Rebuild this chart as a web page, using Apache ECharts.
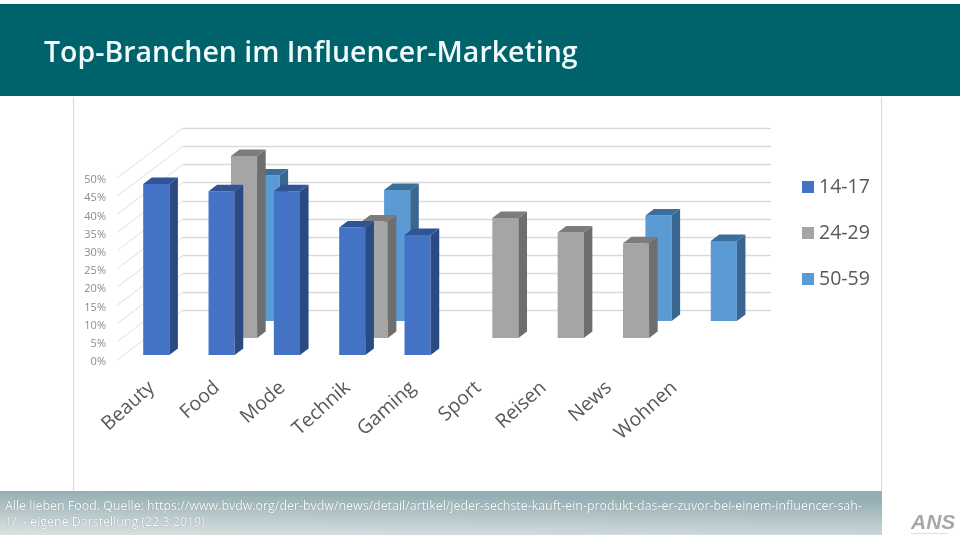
<!DOCTYPE html>
<html><head><meta charset="utf-8">
<style>html,body{margin:0;padding:0;background:#fff}#c{width:960px;height:540px}</style>
<script src="https://cdn.jsdelivr.net/npm/echarts@6/dist/echarts.min.js"></script>
</head><body><div id="c"></div>
<script>
const categories = ['Beauty','Food','Mode','Technik','Gaming','Sport','Reisen','News','Wohnen'];
const valueTicks = [0,5,10,15,20,25,30,35,40,45,50];
const seriesNames = ['14-17','24-29','50-59'];
const values1417 = [47,45,45,35,33,null,null,null,null];
const values2429 = [null,50,null,32,null,33,29,26,null];
const values5059 = [null,40,null,36,null,null,null,29,22];
const titleText = 'Top-Branchen im Influencer-Marketing';
const footerLines = ['Alle lieben Food. Quelle: https://www.bvdw.org/der-bvdw/news/detail/artikel/jeder-sechste-kauft-ein-produkt-das-er-zuvor-bei-einem-influencer-sah-','1/  - eigene Darstellung (22.3.2019)'];

const DEPTH_X = 66, DEPTH_Y = 50, ROW_Y = 17, INSET_Y = 5, BAR_DEPTH_Y = 6.5;
const K = DEPTH_X / DEPTH_Y;
const palette = [
  {front:'#4472C4', side:'#2A4A82', top:'#2F5597'},
  {front:'#A5A5A5', side:'#6E6E6E', top:'#7C7C7C'},
  {front:'#5B9BD5', side:'#3A678F', top:'#3C6E9C'}
];

function barRenderer(row){
  return function(params, api){
    const c = palette[row];
    const base = api.coord([api.value(0), 0]);
    const top = api.coord([api.value(0), api.value(1)]);
    const w = api.size([1,0])[0] * 0.4;
    const d = ROW_Y * row + INSET_Y;
    const x0 = base[0] + d * K - w / 2;
    const x1 = x0 + w;
    const yb = base[1] - d, yt = top[1] - d;
    const dx = BAR_DEPTH_Y * K, dy = BAR_DEPTH_Y;
    return {type:'group', children:[
      {type:'polygon', shape:{points:[[x0,yb],[x1,yb],[x1,yt],[x0,yt]]}, style:{fill:c.front}},
      {type:'polygon', shape:{points:[[x1,yb],[x1+dx,yb-dy],[x1+dx,yt-dy],[x1,yt]]}, style:{fill:c.side}},
      {type:'polygon', shape:{points:[[x0,yt],[x1,yt],[x1+dx,yt-dy],[x0+dx,yt-dy]]}, style:{fill:c.top}}
    ]};
  };
}
function rows(vals){ return vals.map((v,i)=>[i,v]).filter(p=>p[1]!==null); }
const allRows = [values1417, values2429, values5059];

const chart = echarts.init(document.getElementById('c'), null, {renderer:'canvas'});
chart.setOption({
  animation:false,
  backgroundColor:'#fff',
  title:{text:titleText, left:39, top:34, textStyle:{color:'#F2FBFB', fontFamily:'Open Sans', fontSize:28.5, fontWeight:600}, z:10},
  legend:{orient:'vertical', left:797, top:172, itemWidth:12, itemHeight:12, itemGap:26, icon:'rect',
    data:seriesNames, textStyle:{color:'#595959', fontFamily:'Open Sans', fontSize:19.5}},
  grid:[
    {left:117, width:588, top:178, height:182},
    {left:183, width:588, top:128, height:182},
    {left:119, width:588, top:180, height:182}
  ],
  xAxis:[
    {type:'category', gridIndex:0, data:categories, boundaryGap:true,
      axisLine:{show:false}, axisTick:{show:false}, axisLabel:{show:false}},
    {type:'category', gridIndex:1, data:categories, show:false},
    {type:'category', gridIndex:2, data:categories, boundaryGap:true,
      axisLine:{show:false}, axisTick:{show:false},
      axisLabel:{rotate:42, interval:0, margin:23, color:'#595959', fontFamily:'Open Sans', fontSize:19.5}}
  ],
  yAxis:[
    {type:'value', gridIndex:0, min:0, max:50, interval:5, splitLine:{show:false},
      axisLine:{show:false}, axisTick:{show:false}, axisLabel:{show:false}},
    {type:'value', gridIndex:1, min:0, max:50, interval:5, axisLine:{show:false}, axisTick:{show:false},
      axisLabel:{show:false}, splitLine:{show:true, lineStyle:{color:'#D9D9D9', width:1.3}}},
    {type:'value', gridIndex:2, min:0, max:50, interval:5, splitLine:{show:false},
      axisLine:{show:false}, axisTick:{show:false},
      axisLabel:{formatter:'{value}%', margin:13, color:'#8C8C8C', fontFamily:'Open Sans', fontSize:11}}
  ],
  series:[
    {type:'custom', name:'walls', silent:true, xAxisIndex:0, yAxisIndex:0, z:1, clip:false,
      data:valueTicks.map(v=>[0,v]),
      renderItem:(p,api)=>{
        const a = api.coord([0,api.value(1)]);
        const x = a[0] - api.size([1,0])[0]/2;
        return {type:'line', shape:{x1:x,y1:a[1],x2:x+DEPTH_X,y2:a[1]-DEPTH_Y}, style:{stroke:'#DFDFDF',lineWidth:1}};
      }},
    ...seriesNames.map((name,row)=>({
      type:'custom', name, xAxisIndex:0, yAxisIndex:0, z:5-row, clip:false,
      itemStyle:{color:palette[row].front},
      data:rows(allRows[row]),
      encode:{x:0,y:1},
      renderItem:barRenderer(row)
    }))
  ],
  graphic:[
    {type:'rect', z:0, shape:{x:0,y:4,width:960,height:92}, style:{fill:'#00626A'}},
    {type:'line', z:0, shape:{x1:73.5,y1:97,x2:73.5,y2:491}, style:{stroke:'#D9D9D9',lineWidth:1}},
    {type:'line', z:0, shape:{x1:881.5,y1:97,x2:881.5,y2:491}, style:{stroke:'#D9D9D9',lineWidth:1}},
    {type:'rect', z:0, shape:{x:0,y:491,width:882,height:44}, style:{fill:new echarts.graphic.LinearGradient(0,535,0.5,491,[{offset:0,color:'#DAE2E2'},{offset:1,color:'#96AFB4'}],true)}},
    {type:'text', z:6, x:5, y:506, style:{text:footerLines[0], fill:'#FAFCFC', fontFamily:'Open Sans', fontSize:12.4, verticalAlign:'middle', textShadowColor:'rgba(70,90,95,0.7)', textShadowBlur:1}},
    {type:'text', z:6, x:5, y:522, style:{text:footerLines[1], fill:'#FAFCFC', fontFamily:'Open Sans', fontSize:12.4, verticalAlign:'middle', textShadowColor:'rgba(70,90,95,0.7)', textShadowBlur:1}},
    {type:'text', z:6, x:911, y:513, style:{text:'ANS', fill:'#A8A8A8', fontFamily:'Liberation Sans', fontWeight:'bold', fontStyle:'italic', fontSize:21}},
    {type:'line', z:6, shape:{x1:911,y1:533.5,x2:948,y2:533.5}, style:{stroke:'#DDDDDD',lineWidth:1}}
  ]
});
</script></body></html>
